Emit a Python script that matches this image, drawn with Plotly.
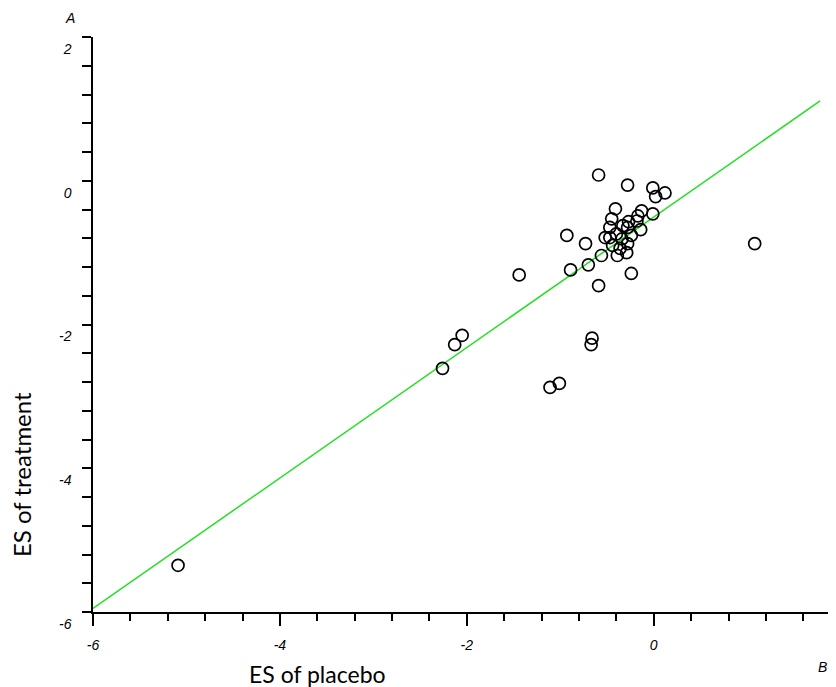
import plotly.graph_objects as go

# ES of placebo (x) and ES of treatment (y) for each study
placebo_es = [-5.09, -2.26, -2.13, -2.05, -1.44, -1.11, -1.01, -0.93, -0.89, -0.73,
              -0.70, -0.67, -0.66, -0.59, -0.59, -0.56, -0.52, -0.47, -0.47, -0.45,
              -0.41, -0.40, -0.44, -0.39, -0.36, -0.33, -0.34, -0.28, -0.28, -0.28,
              -0.29, -0.27, -0.24, -0.24, -0.18, -0.17, -0.13, -0.14, -0.01, -0.01,
              0.02, 0.12, 1.08]
treatment_es = [-5.35, -2.61, -2.28, -2.15, -1.31, -2.875, -2.82, -0.76, -1.24, -0.875,
                -1.17, -2.28, -2.19, 0.08, -1.46, -1.04, -0.79, -0.79, -0.65, -0.53,
                -0.39, -0.74, -0.90, -1.04, -0.94, -0.625, -0.81, -0.06, -0.65, -0.875,
                -1.0, -0.57, -0.76, -1.29, -0.56, -0.49, -0.42, -0.68, -0.10, -0.46,
                -0.22, -0.17, -0.875]

# regression line endpoints
fit_x = [-6.0, 1.78]
fit_y = [-5.95, 1.11]

x_ticks = [-6, -4, -2, 0, 2]
y_ticks = [-6, -4, -2, 0, 2]

fig = go.Figure()
fig.add_trace(go.Scatter(x=fit_x, y=fit_y, mode="lines",
                         line=dict(color="#22e022", width=1.5), showlegend=False))
fig.add_trace(go.Scatter(x=placebo_es, y=treatment_es, mode="markers",
                         marker=dict(symbol="circle-open", size=12, color="black",
                                     line=dict(width=1.7, color="black")),
                         showlegend=False))

tickfont = dict(family="Liberation Sans, Arial", size=14, color="black", style="italic")

# page has an 8px body margin, so the figure is 8px smaller than the window
W, H = 828, 679
L, T, B = 85, 29, 75
PW = W - L
PH = H - T - B

fig.update_layout(
    width=W, height=H,
    margin=dict(l=L, r=0, t=T, b=B),
    paper_bgcolor="white", plot_bgcolor="white",
    xaxis=dict(range=[-6, 1.95], tickvals=x_ticks, ticktext=[str(v) for v in x_ticks],
               showgrid=False, zeroline=False, showline=True, linecolor="black",
               linewidth=1.5, ticks="outside", ticklen=12, tickwidth=1.5,
               tickcolor="black", tickfont=tickfont, ticklabelstandoff=7,
               minor=dict(dtick=0.4, tick0=-6, ticks="outside", ticklen=7,
                          tickwidth=1.5, tickcolor="black", showgrid=False)),
    yaxis=dict(range=[-6, 2], tickvals=y_ticks, ticktext=[str(v) for v in y_ticks],
               showgrid=False, zeroline=False, showline=True, linecolor="black",
               linewidth=1.5, ticks="outside", ticklen=9, tickwidth=1.5,
               tickcolor="black", tickfont=tickfont, ticklabelshift=12,
               ticklabelstandoff=8,
               minor=dict(dtick=0.4, tick0=-6, ticks="outside", ticklen=9,
                          tickwidth=1.5, tickcolor="black", showgrid=False)),
)

fig.add_annotation(text="ES of placebo", xref="paper", yref="paper",
                   x=(317 - 93) / PW, y=-(674 - 612) / PH,
                   showarrow=False, font=dict(family="Lato, Noto Sans", size=23, color="black"),
                   xanchor="center", yanchor="middle")
fig.add_annotation(text="ES of treatment", xref="paper", yref="paper",
                   x=-(93 - 21) / PW, y=(612 - 475) / PH, textangle=-90,
                   showarrow=False, font=dict(family="Lato, Noto Sans", size=24, color="black"),
                   xanchor="center", yanchor="middle")
fig.add_annotation(text="A", xref="paper", yref="paper",
                   x=-(93 - 70) / PW, y=1 + (37 - 18) / PH,
                   showarrow=False, font=tickfont, xanchor="center", yanchor="middle")
fig.add_annotation(text="B", xref="paper", yref="paper",
                   x=(822 - 93) / PW, y=-(667 - 612) / PH,
                   showarrow=False, font=tickfont, xanchor="center", yanchor="middle")
fig.add_annotation(text="2", xref="paper", yref="paper",
                   x=(832 - 93) / PW, y=-(645 - 612) / PH,
                   showarrow=False, font=tickfont, xanchor="center", yanchor="middle")

fig.write_html("out.html")
